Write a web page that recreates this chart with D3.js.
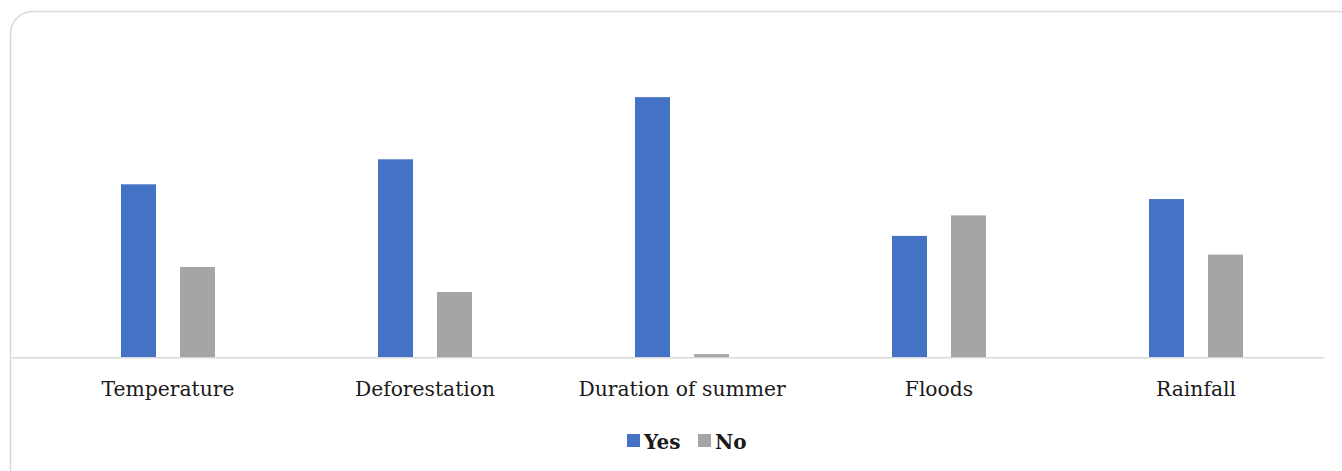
<!DOCTYPE html>
<html>
<head>
<meta charset="utf-8">
<script src="https://cdn.jsdelivr.net/npm/d3@7/dist/d3.min.js"></script>
<style>
  html, body { margin: 0; padding: 0; background: #fff; }
  svg { display: block; }
</style>
</head>
<body>
<svg id="chart" width="1342" height="471"></svg>
<script>
// Share of responses (%) per factor
const categories = ["Temperature", "Deforestation", "Duration of summer", "Floods", "Rainfall"];
const seriesNames = ["Yes", "No"];
const yesValues = [65.7, 75.2, 98.8, 46.1, 60.1];
const noValues = [34.3, 24.8, 1.2, 53.9, 39.0];
const colors = ["#4472c4", "#a5a5a5"];

const series = [yesValues, noValues];

const svg = d3.select("#chart");
const plot = { left: 39.5, right: 1324.5, top: 94, bottom: 357.3 };
const fontFam = "'DejaVu Serif', serif";
const groupW = 94;

// Chart frame with rounded corners
svg.append("rect")
  .attr("x", 10.5).attr("y", 11.5)
  .attr("width", 1350).attr("height", 478)
  .attr("rx", 22).attr("ry", 22)
  .attr("fill", "#fff")
  .attr("stroke", "#d9d9d9")
  .attr("stroke-width", 1.5);

const x0 = d3.scaleBand()
  .domain(categories)
  .range([plot.left, plot.right])
  .paddingInner(0).paddingOuter(0);

const x1 = d3.scaleBand()
  .domain(seriesNames)
  .range([0, groupW])
  .paddingInner(24 / 59)
  .paddingOuter(0);

const y = d3.scaleLinear()
  .domain([0, 100])
  .range([plot.bottom, plot.top]);

const groups = svg.append("g").selectAll("g")
  .data(categories)
  .join("g")
  .attr("transform", d => `translate(${x0(d) + (x0.bandwidth() - groupW) / 2},0)`);

groups.selectAll("rect")
  .data((d, i) => seriesNames.map((s, j) => ({ s, v: series[j][i] })))
  .join("rect")
  .attr("x", d => x1(d.s))
  .attr("width", x1.bandwidth())
  .attr("y", d => y(d.v))
  .attr("height", d => y(0) - y(d.v))
  .attr("fill", d => colors[seriesNames.indexOf(d.s)]);

// Category axis
const xAxis = d3.axisBottom(x0).tickSize(0).tickPadding(0);
const axisG = svg.append("g")
  .attr("transform", `translate(0,${plot.bottom})`)
  .call(xAxis);
axisG.select(".domain")
  .attr("stroke", "#d9d9d9")
  .attr("stroke-width", 1.5)
  .attr("d", `M12,0.5H${plot.right}`);
axisG.selectAll(".tick text")
  .attr("y", 38.5)
  .attr("dy", 0)
  .attr("fill", "#1a1a1a")
  .style("font-family", fontFam)
  .style("font-size", "20.3px");

// Legend
const legend = svg.append("g");
const legendItems = [
  { name: "Yes", color: colors[0], x: 627 },
  { name: "No", color: colors[1], x: 698 }
];
legendItems.forEach(it => {
  legend.append("rect")
    .attr("x", it.x).attr("y", 434)
    .attr("width", 13).attr("height", 13)
    .attr("fill", it.color);
  legend.append("text")
    .attr("x", it.x + 17).attr("y", 449)
    .attr("fill", "#1a1a1a")
    .style("font-family", fontFam)
    .style("font-size", "20px")
    .style("font-weight", "bold")
    .text(it.name);
});
</script>
</body>
</html>
